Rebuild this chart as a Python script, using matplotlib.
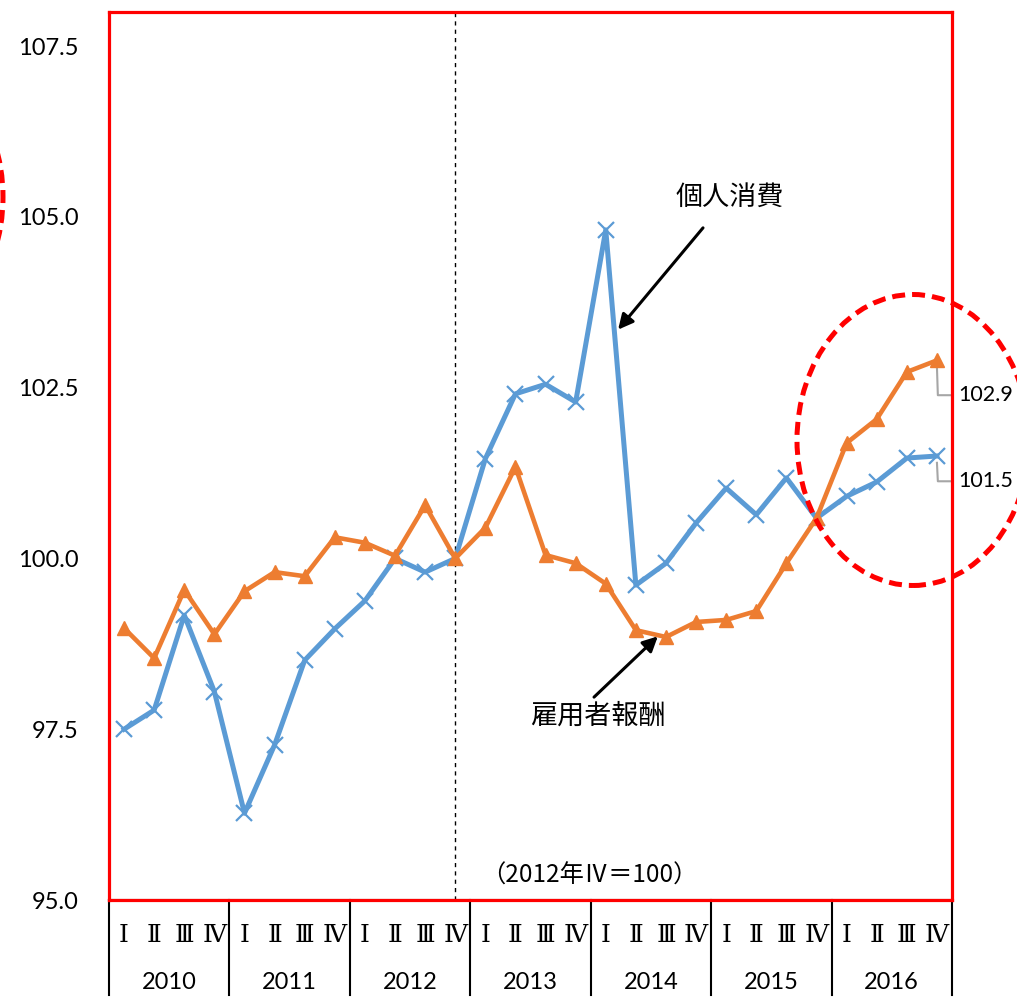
import matplotlib
matplotlib.use("Agg")
import matplotlib.pyplot as plt
from matplotlib.patches import Ellipse
import numpy as np

plt.rcParams['font.family'] = ['Lato', 'Noto Sans CJK JP', 'DejaVu Sans']

years = ['2010', '2011', '2012', '2013', '2014', '2015', '2016']
quarters = ['Ⅰ', 'Ⅱ', 'Ⅲ', 'Ⅳ']

consumption = [97.5, 97.78, 99.17, 98.05, 96.27, 97.27, 98.51, 98.97,
               99.38, 100.0, 99.8, 100.0, 101.46, 102.41, 102.55, 102.29,
               104.81, 99.61, 99.93, 100.52, 101.03, 100.64, 101.18, 100.59,
               100.91, 101.12, 101.47, 101.5]
compensation = [98.98, 98.54, 99.54, 98.89, 99.52, 99.8, 99.74, 100.31,
                100.23, 100.04, 100.78, 100.0, 100.45, 101.34, 100.05, 99.93,
                99.63, 98.95, 98.85, 99.07, 99.1, 99.23, 99.93, 100.59,
                101.69, 102.04, 102.73, 102.9]

label_cons = '個人消費'
label_comp = '雇用者報酬'
base_note = '（2012年Ⅳ＝100）'

W, H = 1017, 1005
fig = plt.figure(figsize=(W / 100, H / 100), dpi=100)
ax = fig.add_axes([109 / W, 105 / H, (952 - 109) / W, (900 - 12) / H])

n = len(consumption)
x = np.arange(n)

blue = '#5B9BD5'
orange = '#ED7D31'

ax.plot(x, consumption, color=blue, lw=3.6, marker='x', ms=11, mew=1.6,
        zorder=3, clip_on=False)
ax.plot(x, compensation, color=orange, lw=3.3, marker='^', ms=10,
        zorder=4, clip_on=False)

ax.set_xlim(-0.5, n - 0.5)
ax.set_ylim(95, 108)
yt = np.arange(95, 107.6, 2.5)
ax.set_yticks(yt)
ax.set_yticklabels([f'{v:.1f}' for v in yt], fontsize=17)
ax.tick_params(axis='y', length=0, pad=22)
ax.set_xticks([])

for s in ax.spines.values():
    s.set_color('#FF0000')
    s.set_linewidth(2.3)

# base period dashed line
ax.axvline(11, color='black', lw=1, ls=(0, (3, 3)), zorder=2)

def fx(px):
    return px / W

def fy(py):
    return 1 - py / H

# category table below axis
ax.plot([-0.5, n - 0.5], [95, 95], color='black', lw=1.5, clip_on=False, zorder=1)
for b in range(len(years) + 1):
    xb = -0.5 + 4 * b
    ax.plot([xb, xb], [95, 95 - 95 / 68.3], color='black', lw=1.5, clip_on=False)
for yi, yr in enumerate(years):
    for qi, q in enumerate(quarters):
        ax.text(4 * yi + qi, 95 - 35 / 68.3, q, ha='center', va='center',
                fontsize=18, family=['DejaVu Serif', 'Noto Sans CJK JP'],
                clip_on=False)
    ax.text(4 * yi + 1.5, 95 - 82 / 68.3, yr, ha='center', va='center',
            fontsize=17, clip_on=False)

# annotations
arrow_kw = dict(arrowstyle='-|>,head_length=0.9,head_width=0.45',
                color='black', lw=2.2, shrinkA=0, shrinkB=0)
ax.text(20.13, 105.29, label_cons, ha='center', va='center', fontsize=19.5,
        family=['Noto Sans CJK JP'])
ax.annotate('', xy=(16.41, 103.35), xytext=(19.23, 104.84), arrowprops=arrow_kw)
ax.text(15.75, 97.69, label_comp, ha='center', va='center', fontsize=19.5,
        family=['Noto Sans CJK JP'])
ax.annotate('', xy=(17.73, 98.86), xytext=(15.61, 97.97), arrowprops=arrow_kw)
ax.text(15.45, 95.35, base_note, ha='center', va='center', fontsize=17.5,
        family=['Noto Sans CJK JP'])

# data labels with leader lines
gray = '#A6A6A6'
for val, ylab in [(compensation[-1], 102.39), (consumption[-1], 101.13)]:
    ax.plot([27, 27.03, 27.5], [val - 0.1, ylab, ylab], color=gray, lw=1.5,
            clip_on=False, zorder=2)
    ax.text(27.71, ylab, f'{val:.1f}', ha='left', va='center', fontsize=15.5,
            clip_on=False)

# red dashed ellipses
for cx, cy in [(913, 440), (-113, 197)]:
    e = Ellipse((fx(cx), fy(cy)), 232 / W, 291 / H, transform=fig.transFigure,
                fill=False, edgecolor='#FF0000', lw=3.6, ls=(0, (2.6, 1.4)),
                zorder=6, clip_on=False)
    fig.patches.append(e)

fig.savefig('out.png', dpi=100)
